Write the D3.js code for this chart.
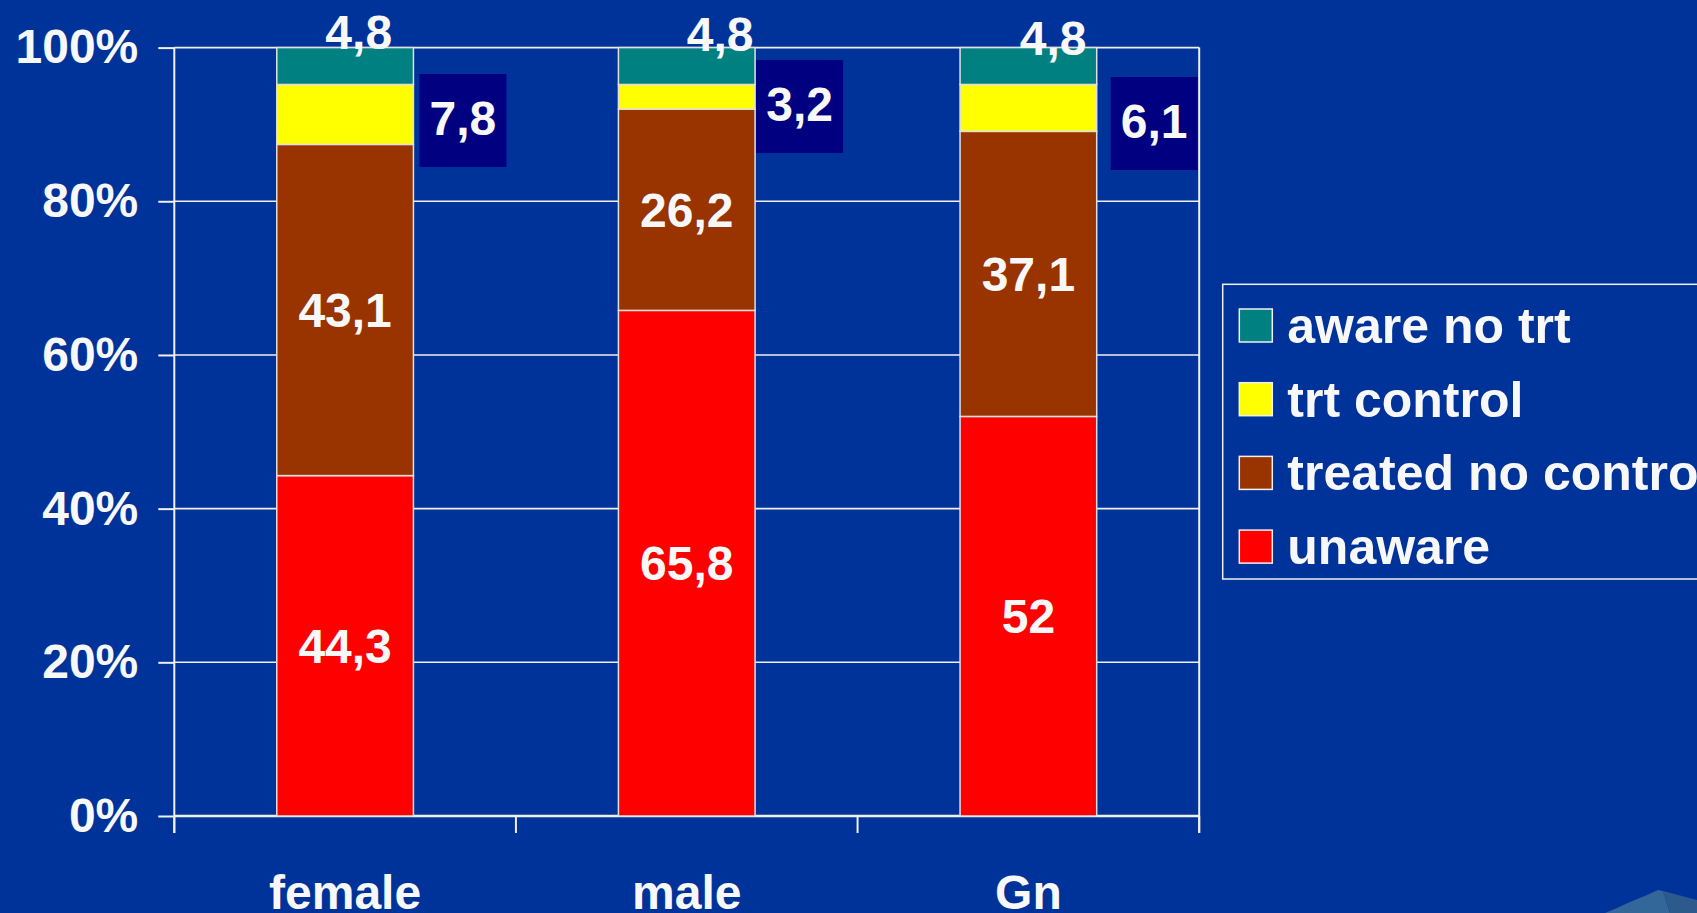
<!DOCTYPE html>
<html><head><meta charset="utf-8">
<script src="https://cdn.jsdelivr.net/npm/d3@7"></script>
<style>html,body{margin:0;padding:0;background:#003399;overflow:hidden}</style>
</head><body><svg id="chart" width="1697" height="913"></svg>
<script>
// ---- data ----
const categories = ["female", "male", "Gn"];
const seriesKeys = ["unaware", "treated no control", "trt control", "aware no trt"];
const unaware = [44.3, 65.8, 52];
const treatedNoControl = [43.1, 26.2, 37.1];
const trtControl = [7.8, 3.2, 6.1];
const awareNoTrt = [4.8, 4.8, 4.8];
const yTicks = [0, 20, 40, 60, 80, 100];
const yTickLabels = ["0%", "20%", "40%", "60%", "80%", "100%"];
const legendOrder = ["aware no trt", "trt control", "treated no control", "unaware"];

// ---- style ----
const colors = {"unaware": "#FF0000", "treated no control": "#993300", "trt control": "#FFFF00", "aware no trt": "#008080"};
const topLabelDx = [13.6, 33.4, 24.7];
const topLabelDy = [1.7, 3.1, 7.4];
const boxDx = [6, 1, 14];
const boxDy = [26.4, 12.4, 29.4];
const FONT = "'Liberation Sans', Arial, sans-serif";
const TXT = "#F8F8F8";
const LINE = "#F0F0F0";

const svg = d3.select("#chart");
const W = 1697, H = 913;
const mLeft = 174.3, mRight = 1199.2, mTop = 47.6, mBottom = 816;

svg.append("rect").attr("width", W).attr("height", H).attr("fill", "#003399");

// decoration bottom right
svg.append("polygon").attr("points", "1605,913 1617,908 1630,902 1647,895 1658,890 1663,891 1670,913").attr("fill", "#336699");
svg.append("polygon").attr("points", "1663,891 1697,900 1697,913 1670,913").attr("fill", "#2D5A8C");

const x = d3.scaleBand().domain(categories).range([mLeft, mRight]).paddingInner(0.6).paddingOuter(0.3);
const y = d3.scaleLinear().domain([0, 100]).range([mBottom, mTop]);

const rows = categories.map((c, i) => ({
  cat: c,
  "unaware": unaware[i],
  "treated no control": treatedNoControl[i],
  "trt control": trtControl[i],
  "aware no trt": awareNoTrt[i]
}));
const stacked = d3.stack().keys(seriesKeys)(rows);
stacked.forEach(s => s.forEach(d => { d.key = s.key; }));
const fmt = v => String(v).replace(".", ",");

// gridlines
svg.append("g").selectAll("line").data(yTicks).join("line")
  .attr("x1", mLeft).attr("x2", mRight)
  .attr("y1", d => y(d)).attr("y2", d => y(d))
  .attr("stroke", LINE).attr("stroke-width", d => d === 0 ? 2.5 : 1.6);

// y axis
const yAxis = d3.axisLeft(y).tickValues(yTicks).tickSize(16).tickPadding(20)
  .tickFormat((d, i) => yTickLabels[i]);
const gy = svg.append("g").attr("transform", `translate(${mLeft},0)`).call(yAxis);
gy.select(".domain").remove();
gy.selectAll(".tick line").attr("stroke", LINE).attr("stroke-width", 2);
gy.selectAll(".tick text").attr("fill", TXT).attr("font-family", FONT)
  .attr("font-weight", "bold").attr("font-size", 48);

// axis frame lines
svg.append("line").attr("x1", mLeft).attr("x2", mLeft).attr("y1", mTop).attr("y2", mBottom + 17)
  .attr("stroke", LINE).attr("stroke-width", 2);
svg.append("line").attr("x1", mRight).attr("x2", mRight).attr("y1", mTop).attr("y2", mBottom + 17)
  .attr("stroke", LINE).attr("stroke-width", 2);
const bounds = d3.range(categories.length + 1).map(i => mLeft + i * x.step());
svg.append("g").selectAll("line").data(bounds).join("line")
  .attr("x1", d => d).attr("x2", d => d).attr("y1", mBottom).attr("y2", mBottom + 17)
  .attr("stroke", LINE).attr("stroke-width", 2);

// bars
svg.append("g").selectAll("g").data(stacked).join("g")
  .attr("fill", s => colors[s.key])
  .selectAll("rect").data(s => s).join("rect")
  .attr("x", d => x(d.data.cat)).attr("width", x.bandwidth())
  .attr("y", d => y(d[1])).attr("height", d => y(d[0]) - y(d[1]))
  .attr("stroke", "#E0E0E0").attr("stroke-width", 1.5);

// category labels
svg.append("g").selectAll("text").data(categories).join("text")
  .attr("x", d => x(d) + x.bandwidth() / 2).attr("y", 909)
  .attr("text-anchor", "middle").attr("fill", TXT).attr("font-family", FONT)
  .attr("font-weight", "bold").attr("font-size", 48).text(d => d);

// inner labels (unaware & treated no control)
const inner = stacked.filter(s => s.key === "unaware" || s.key === "treated no control");
inner.forEach(s => {
  svg.append("g").selectAll("text").data(s).join("text")
    .attr("x", d => x(d.data.cat) + x.bandwidth() / 2)
    .attr("y", d => y((d[0] + d[1]) / 2))
    .attr("dy", "0.35em")
    .attr("text-anchor", "middle").attr("fill", TXT).attr("font-family", FONT)
    .attr("font-weight", "bold").attr("font-size", 48)
    .text(d => fmt(d.data[d.key]));
});

// top labels (aware no trt)
svg.append("g").selectAll("text").data(categories).join("text")
  .attr("x", (d, i) => x(d) + x.bandwidth() / 2 + topLabelDx[i])
  .attr("y", (d, i) => y(100) + topLabelDy[i])
  .attr("text-anchor", "middle").attr("fill", TXT).attr("font-family", FONT)
  .attr("font-weight", "bold").attr("font-size", 48)
  .text((d, i) => fmt(awareNoTrt[i]));

// boxed labels (trt control)
const boxes = svg.append("g").selectAll("g").data(categories).join("g")
  .attr("transform", (d, i) => `translate(${x(d) + x.bandwidth() + boxDx[i]},${y(100) + boxDy[i]})`);
boxes.append("rect").attr("width", 87).attr("height", 93).attr("fill", "#000080");
boxes.append("text").attr("x", 43.5).attr("y", 61)
  .attr("text-anchor", "middle").attr("fill", TXT).attr("font-family", FONT)
  .attr("font-weight", "bold").attr("font-size", 48)
  .text((d, i) => fmt(trtControl[i]));

// legend
const lg = svg.append("g").attr("transform", "translate(1222.7,284.3)");
lg.append("rect").attr("width", 600).attr("height", 294.7)
  .attr("fill", "none").attr("stroke", LINE).attr("stroke-width", 1.5);
const items = lg.selectAll("g.item").data(legendOrder).join("g").attr("class", "item")
  .attr("transform", (d, i) => `translate(0,${i * 73.7})`);
items.append("rect").attr("x", 16.6).attr("y", 24.7).attr("width", 33).attr("height", 33)
  .attr("fill", d => colors[d]).attr("stroke", "#F0F0F0").attr("stroke-width", 1.5);
items.append("text").attr("x", 64.6).attr("y", 58.5)
  .attr("fill", TXT).attr("font-family", FONT).attr("font-weight", "bold").attr("font-size", 50)
  .text(d => d);
</script>
</body></html>
